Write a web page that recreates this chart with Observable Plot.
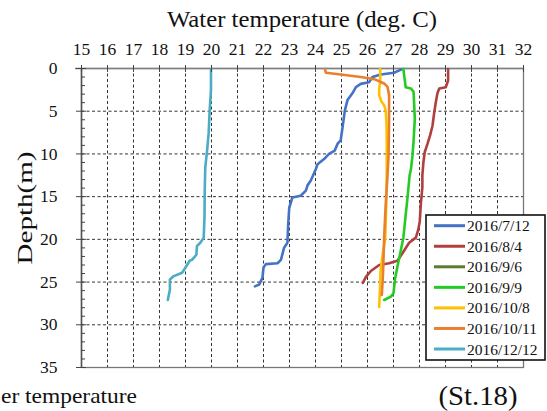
<!DOCTYPE html>
<html><head><meta charset="utf-8">
<script src="https://cdn.jsdelivr.net/npm/d3@7"></script>
<script src="https://cdn.jsdelivr.net/npm/@observablehq/plot@0.6"></script>
<style>
body{margin:0;background:#fff;}
#wrap{position:relative;width:547px;height:411px;overflow:hidden;}
#wrap svg{position:absolute;left:0;top:0;}
</style></head><body><div id="wrap"></div>
<script>
// ---- data ----
const seriesNames = ["2016/7/12","2016/8/4","2016/9/6","2016/9/9","2016/10/8","2016/10/11","2016/12/12"];
const seriesColors = ["#4472C4","#B0403D","#5E7A2E","#22CC22","#FFC000","#E8802F","#4BACC6"];

const depth_0712 = [0.1,0.5,0.7,1.0,1.6,1.8,2.2,2.9,3.7,4.9,6.9,8.4,8.8,9.6,10.0,10.6,11.2,11.8,13.1,13.7,14.3,14.9,15.1,16.3,18.2,20.4,21.0,22.4,22.8,22.9,23.3,24.5,25.3,25.5];
const temp_0712  = [27.31,27.02,26.51,26.19,26.06,25.74,25.55,25.42,25.23,25.13,25.04,24.97,24.85,24.74,24.52,24.33,24.08,24.01,23.82,23.69,23.63,23.43,23.11,22.99,22.95,22.92,22.79,22.67,22.54,22.09,22.0,21.96,21.83,21.67];

const depth_0804 = [0.05,1.4,2.2,2.35,2.9,3.9,5.3,6.7,7.8,8.8,9.8,11.0,12.5,13.9,15.9,17.9,18.9,19.8,20.4,21.6,22.5,22.8,23.0,23.7,24.4,25.1];
const temp_0804  = [29.1,29.1,29.01,28.76,28.69,28.63,28.56,28.5,28.41,28.31,28.2,28.15,28.11,28.11,28.05,28.01,27.95,27.86,27.6,27.35,27.15,26.83,26.45,26.13,25.94,25.82];

const depth_0906 = [];
const temp_0906  = [];

const depth_0909 = [0.05,0.8,2.2,2.35,2.7,3.9,5.9,7.5,8.6,10.2,11.8,12.5,15.1,17.1,19.8,21.6,23.2,24.6,26.3,26.7,27.1];
const temp_0909  = [27.38,27.41,27.47,27.67,27.77,27.79,27.82,27.79,27.77,27.73,27.67,27.62,27.54,27.47,27.38,27.26,27.15,27.06,27.0,26.9,26.64];

const depth_1008 = [0.05,1.6,2.35,3.1,3.9,4.3,4.9,6.3,8.6,12.5,16.0,20.0,21.8,23.8,25.0,27.9];
const temp_1008  = [26.49,26.49,26.45,26.45,26.54,26.64,26.7,26.73,26.74,26.74,26.72,26.68,26.58,26.5,26.49,26.45];

const depth_1011 = [0.05,0.5,0.7,1.0,1.25,1.75,2.15,3.1,6.3,10.2,12.5,15.9,19.8,23.8,25.0,26.5];
const temp_1011  = [24.36,24.4,24.97,25.74,26.26,26.64,26.77,26.83,26.83,26.81,26.77,26.7,26.64,26.6,26.58,26.55];

const depth_1212 = [0.05,2.5,4.9,7.6,9.6,11.6,14.3,17.4,19.8,20.4,20.8,21.8,22.4,22.5,23.3,23.9,24.3,24.7,25.9,27.1];
const temp_1212  = [19.98,19.98,19.93,19.89,19.83,19.76,19.74,19.73,19.7,19.57,19.44,19.42,19.25,19.16,19.0,18.87,18.55,18.4,18.4,18.32];

const xTickValues = [15,16,17,18,19,20,21,22,23,24,25,26,27,28,29,30,31,32];
const yTickValues = [0,5,10,15,20,25,30,35];

const titleText = "Water temperature (deg. C)";
const yLabelText = "Depth(m)";
const stationText = "(St.18)";
const captionText = "er temperature";

// ---- build ----
const seriesDepths = [depth_0712,depth_0804,depth_0906,depth_0909,depth_1008,depth_1011,depth_1212];
const seriesTemps  = [temp_0712,temp_0804,temp_0906,temp_0909,temp_1008,temp_1011,temp_1212];
const rows = [];
seriesNames.forEach((name,i)=>{
  seriesDepths[i].forEach((d,j)=>rows.push({series:name, depth:d, temp:seriesTemps[i][j]}));
});
const yMinor = d3.range(0,36).filter(d=>d%5!==0);
const xGrid = xTickValues.slice(1,-1);
const yGrid = yTickValues.slice(1,-1);

const W=547,H=411,mt=68,ml=81,mr=24,mb=44;
const fw=W-ml-mr, fh=H-mt-mb;
const serif = "'Liberation Serif', 'Times New Roman', serif";

const svgEl = Plot.plot({
  width:W, height:H, marginTop:mt, marginLeft:ml, marginRight:mr, marginBottom:mb,
  style:{fontSize:"17.5px", color:"#111", background:"white", overflow:"visible"},
  x:{domain:[15,32]},
  y:{domain:[0,35], reverse:true},
  color:{domain:seriesNames, range:seriesColors},
  marks:[
    Plot.ruleX(xGrid, {stroke:"#333", strokeWidth:1, strokeDasharray:"3,2.5"}),
    Plot.ruleY(yGrid, {stroke:"#333", strokeWidth:1, strokeDasharray:"3,2.5"}),
    Plot.frame({stroke:"#777", strokeWidth:1.3}),
    Plot.ruleY([0], {stroke:"#808080", strokeWidth:1.6, insetLeft:-6}),
    Plot.ruleX([15], {stroke:"#555", strokeWidth:1.5}),
    Plot.line(rows, {x:"temp", y:"depth", z:"series", stroke:"series", strokeWidth:2.6, curve:"linear"}),
    Plot.axisX({anchor:"top", ticks:xTickValues, tickSize:4, tickPadding:10, label:null, stroke:"#444"}),
    Plot.tickX(xTickValues, {stroke:"#444", insetBottom: fh-4}),
    Plot.axisY({anchor:"left", ticks:yTickValues, tickSize:5, tickPadding:19, label:null, stroke:"#444"}),
    Plot.tickY(yTickValues, {stroke:"#444", insetRight: fw-5}),
    Plot.tickY(yMinor, {stroke:"#444", insetRight: fw-4})
  ]
});
document.getElementById("wrap").appendChild(svgEl);

const svg = d3.select(svgEl);
const addText = (txt, attrs) => {
  const t = svg.append("text").text(txt).attr("fill","#111").attr("text-anchor","start");
  Object.entries(attrs).forEach(([k,v])=>t.attr(k,v));
  return t;
};
addText(titleText, {x:302, y:27, "text-anchor":"middle", "font-size":23, textLength:270, lengthAdjust:"spacingAndGlyphs"});
addText(yLabelText, {transform:"translate(32,208) rotate(-90)", "text-anchor":"middle", "font-size":21, textLength:113, lengthAdjust:"spacingAndGlyphs"});
addText(stationText, {x:478, y:405, "text-anchor":"middle", "font-size":27, textLength:79, lengthAdjust:"spacingAndGlyphs"});
addText(captionText, {x:1, y:403, "text-anchor":"start", "font-size":21, textLength:136, lengthAdjust:"spacingAndGlyphs"});

// legend
const lg = svg.append("g").attr("text-anchor","start");
lg.append("rect").attr("x",426).attr("y",215).attr("width",119).attr("height",145)
  .attr("fill","white").attr("stroke","#111").attr("stroke-width",1.6);
seriesNames.forEach((name,i)=>{
  const y = 225.7 + i*20.55;
  lg.append("line").attr("x1",434).attr("x2",465).attr("y1",y).attr("y2",y)
    .attr("stroke",seriesColors[i]).attr("stroke-width",3);
  lg.append("text").text(name).attr("x",467).attr("y",y).attr("dy","0.36em")
    .attr("text-anchor","start").attr("font-size",15.5).attr("fill","#111");
});

// force the serif face on every text
svg.style("font-family", serif);
svg.selectAll("g").style("font-family", serif);
svg.selectAll("text").style("font-family", serif).attr("font-family", "Liberation Serif");
</script>
</body></html>
